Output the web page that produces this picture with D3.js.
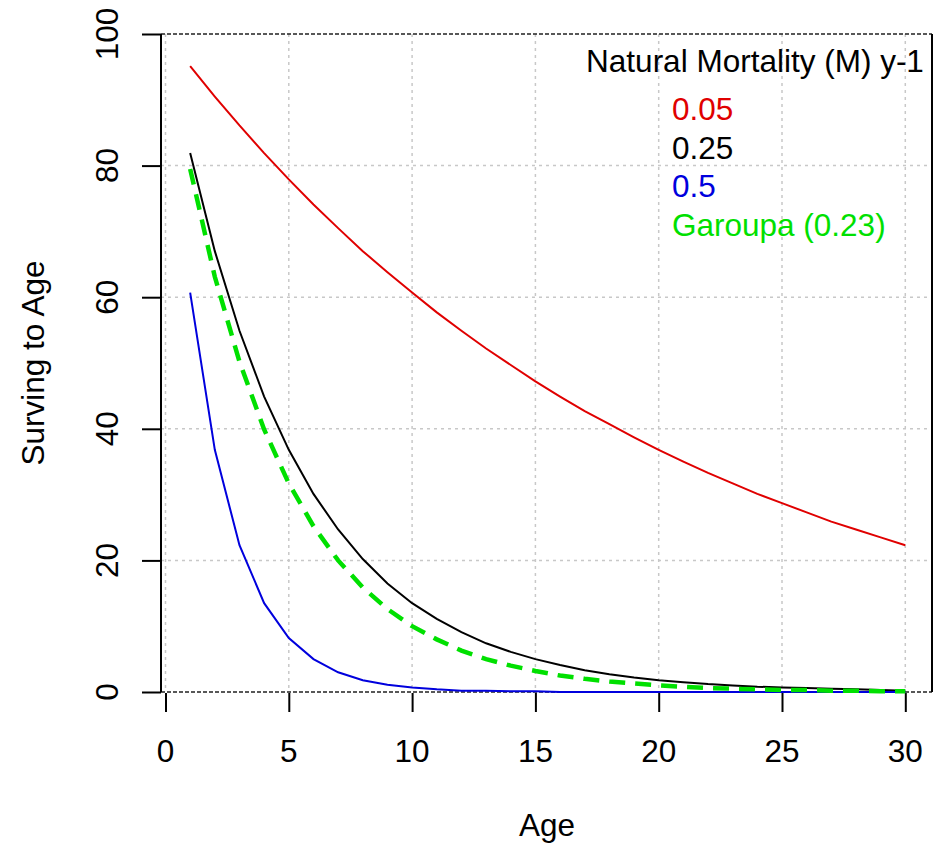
<!DOCTYPE html>
<html>
<head>
<meta charset="utf-8">
<script src="https://cdn.jsdelivr.net/npm/d3@7"></script>
<style>
  body { margin: 0; background: #fff; }
  text { font-family: "Liberation Sans", Arial, sans-serif; }
</style>
</head>
<body>
<svg id="chart" width="934" height="847"></svg>
<script>
const ages = d3.range(1, 31);
// survival (%), ages 1..30
const m005 = [95.1, 90.5, 86.1, 81.9, 77.9, 74.1, 70.5, 67.0, 63.8, 60.7, 57.7, 54.9, 52.2, 49.7, 47.2,
              44.9, 42.7, 40.7, 38.7, 36.8, 35.0, 33.3, 31.7, 30.1, 28.7, 27.3, 25.9, 24.7, 23.5, 22.3];
const m025 = [81.9, 67.0, 54.9, 44.9, 36.8, 30.1, 24.7, 20.2, 16.5, 13.5, 11.1, 9.1, 7.4, 6.1, 5.0,
              4.1, 3.3, 2.7, 2.2, 1.8, 1.5, 1.2, 1.0, 0.8, 0.7, 0.6, 0.5, 0.4, 0.3, 0.2];
const m05 = [60.7, 36.8, 22.3, 13.5, 8.2, 5.0, 3.0, 1.8, 1.1, 0.7, 0.4, 0.2, 0.2, 0.1, 0.1,
             0, 0, 0, 0, 0, 0, 0, 0, 0, 0, 0, 0, 0, 0, 0];
const garoupa = [79.5, 63.1, 50.2, 39.9, 31.7, 25.2, 20.0, 15.9, 12.6, 10.0, 8.0, 6.3, 5.0, 4.0, 3.2,
                 2.5, 2.0, 1.6, 1.3, 1.0, 0.8, 0.6, 0.5, 0.4, 0.3, 0.3, 0.2, 0.2, 0.1, 0.1];
const legendLabels = ["0.05", "0.25", "0.5", "Garoupa (0.23)"];
const xTicks = [0, 5, 10, 15, 20, 25, 30];
const yTicks = [0, 20, 40, 60, 80, 100];

const svg = d3.select("#chart");
const x = d3.scaleLinear().domain([0, 30]).range([165.5, 905.3]);
const y = d3.scaleLinear().domain([0, 100]).range([692, 34]);
const fs = 31.5;

// grid
svg.append("g").selectAll("line")
  .data(xTicks)
  .join("line")
  .attr("x1", d => x(d)).attr("x2", d => x(d))
  .attr("y1", y(100)).attr("y2", y(0))
  .attr("stroke", "#c8c8c8").attr("stroke-width", 1.5)
  .attr("stroke-dasharray", "3,4");
svg.append("g").selectAll("line")
  .data([20, 40, 60, 80])
  .join("line")
  .attr("x1", 161).attr("x2", 932)
  .attr("y1", d => y(d)).attr("y2", d => y(d))
  .attr("stroke", "#c8c8c8").attr("stroke-width", 1.5)
  .attr("stroke-dasharray", "3,4");
// dark dashed lines at 0 and 100
svg.append("g").selectAll("line")
  .data([0, 100])
  .join("line")
  .attr("x1", 161).attr("x2", 932)
  .attr("y1", d => y(d)).attr("y2", d => y(d))
  .attr("stroke", "#222").attr("stroke-width", 1.5)
  .attr("stroke-dasharray", "4,2");

// left axis
const yAxis = svg.append("g")
  .attr("transform", "translate(161,0)")
  .call(d3.axisLeft(y).tickValues(yTicks).tickSize(19).tickFormat(""));
yAxis.select(".domain").attr("d", `M0,${y(0)}V${y(100)}`).attr("stroke-width", 2);
yAxis.selectAll(".tick line").attr("stroke-width", 2);
svg.append("g").selectAll("text")
  .data(yTicks)
  .join("text")
  .attr("transform", d => `translate(118,${y(d)}) rotate(-90)`)
  .attr("text-anchor", "middle")
  .attr("font-size", fs)
  .text(d => d);

// right border
svg.append("line")
  .attr("x1", 932).attr("x2", 932).attr("y1", y(100)).attr("y2", y(0))
  .attr("stroke", "#000").attr("stroke-width", 2);

// bottom axis (ticks only)
const xAxis = svg.append("g")
  .attr("transform", `translate(0,${y(0) + 1})`)
  .call(d3.axisBottom(x).tickValues(xTicks).tickSize(19).tickFormat(""));
xAxis.select(".domain").remove();
xAxis.selectAll(".tick line").attr("stroke-width", 2);
svg.append("g").selectAll("text")
  .data(xTicks)
  .join("text")
  .attr("x", d => x(d)).attr("y", 762)
  .attr("text-anchor", "middle")
  .attr("font-size", fs)
  .text(d => d);

// axis titles
svg.append("text")
  .attr("x", 547).attr("y", 836)
  .attr("text-anchor", "middle").attr("font-size", fs)
  .text("Age");
svg.append("text")
  .attr("transform", `translate(44,${(y(0) + y(100)) / 2}) rotate(-90)`)
  .attr("text-anchor", "middle").attr("font-size", fs)
  .text("Surving to Age");

// curves
const line = d3.line().x((d, i) => x(ages[i])).y(d => y(d));
const series = [
  { vals: m005, color: "#e00000", w: 2, dash: null },
  { vals: m025, color: "#000000", w: 2, dash: null },
  { vals: m05, color: "#0000dd", w: 2, dash: null },
  { vals: garoupa, color: "#00e000", w: 4.5, dash: "16,10" }
];
svg.append("g").selectAll("path")
  .data(series)
  .join("path")
  .attr("d", d => line(d.vals))
  .attr("fill", "none")
  .attr("stroke", d => d.color)
  .attr("stroke-width", d => d.w)
  .attr("stroke-dasharray", d => d.dash);

// legend
svg.append("text")
  .attr("x", 755).attr("y", 72)
  .attr("text-anchor", "middle").attr("font-size", fs)
  .text("Natural Mortality (M) y-1");
svg.append("g").selectAll("text")
  .data(legendLabels)
  .join("text")
  .attr("x", 672).attr("y", (d, i) => 120 + i * 38.5)
  .attr("font-size", fs)
  .attr("fill", (d, i) => series[i].color)
  .text(d => d);
</script>
</body>
</html>
